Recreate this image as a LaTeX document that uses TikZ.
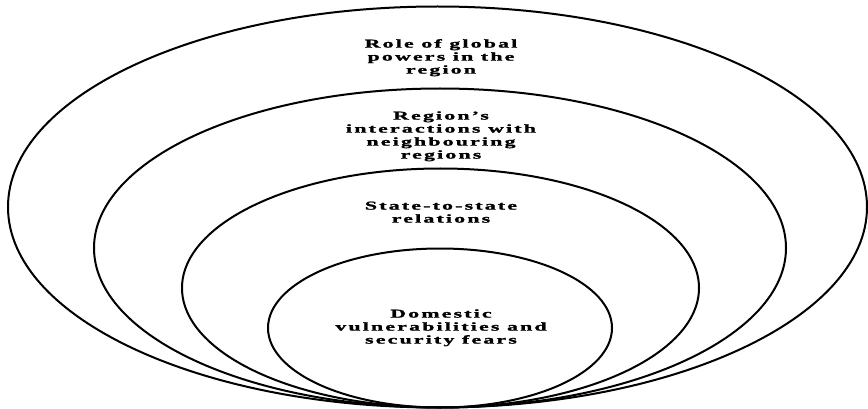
\documentclass[tikz,border=0pt]{standalone}
\usepackage{fontspec}
\usepackage{graphicx}
\newfontfamily\lblfont[LetterSpace=10,FakeBold=1.2]{Liberation Serif}
\newcommand{\ringtext}[1]{\scalebox{1.82}[1]{\lblfont\bfseries\fontsize{12}{13}\selectfont\setlength{\tabcolsep}{0pt}\renewcommand{\arraystretch}{1}\begin{tabular}{c}#1\end{tabular}}}
\begin{document}
\begin{tikzpicture}[x=1pt,y=-1pt,
  ring/.style={draw=black,line width=2pt},
  lbl/.style={align=center,inner sep=0pt}]
\useasboundingbox (0,0) rectangle (868,409);
\draw[ring] (437.5,207) ellipse [x radius=429.5, y radius=200.5];
\draw[ring] (440,248) ellipse [x radius=346, y radius=159.5];
\draw[ring] (440.5,288) ellipse [x radius=258.5, y radius=119.5];
\draw[ring] (440,328) ellipse [x radius=172, y radius=79.5];
\node[lbl] (t1) at (441,58) {\ringtext{Role of global\\powers in the\\region}};
\node[lbl] (t2) at (441,136.5) {\ringtext{Region’s\\interactions with\\neighbouring\\regions}};
\node[lbl] (t3) at (441,213.5) {\ringtext{State-to-state\\relations}};
\node[lbl] (t4) at (441,328) {\ringtext{Domestic\\vulnerabilities and\\security fears}};
\end{tikzpicture}
\end{document}
